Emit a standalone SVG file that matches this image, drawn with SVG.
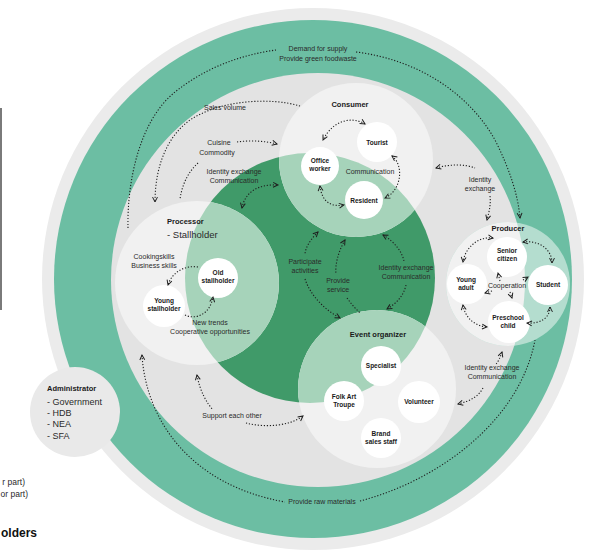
<svg xmlns="http://www.w3.org/2000/svg" width="605" height="559" viewBox="0 0 605 559">
<defs>
<style>
.t{font-family:"Liberation Sans",Arial,sans-serif;font-size:7px;fill:#2a2a2a;text-anchor:middle}
.b{font-family:"Liberation Sans",Arial,sans-serif;font-weight:bold;font-size:7.5px;fill:#1a1a1a;text-anchor:middle}
.n{font-family:"Liberation Sans",Arial,sans-serif;font-weight:bold;font-size:6.5px;fill:#1a1a1a;text-anchor:middle}
.node{fill:#ffffff}
.role{fill:#f1f1f1}
.lg{fill:#a6d3ba}
.d{fill:none;stroke:#1e1e1e;stroke-width:1.1;stroke-dasharray:1.2 1.8}
.ar{marker-end:url(#ah)}
.as{marker-start:url(#ah)}
</style>
<marker id="ah" viewBox="0 0 10 10" refX="8" refY="5" markerWidth="7" markerHeight="7" markerUnits="userSpaceOnUse" orient="auto-start-reverse">
<path d="M1,1.5 L8,5 L1,8.5" fill="none" stroke="#1e1e1e" stroke-width="1.4"/>
</marker>
<clipPath id="cg"><circle cx="310" cy="278" r="125"/></clipPath>
<clipPath id="cin"><circle cx="318" cy="280" r="207"/></clipPath>
</defs>
<rect width="605" height="559" fill="#ffffff"/>
<line x1="1" y1="108" x2="1" y2="310" stroke="#7a7a7a" stroke-width="2"/>

<g id="rings">
<circle cx="313" cy="279" r="271" fill="#ebebeb"/>
<circle cx="313" cy="279" r="259" fill="#6cbea3"/>
<circle cx="318" cy="280" r="207" fill="#e3e3e3"/>
<circle cx="310" cy="278" r="125" fill="#409a69"/>
</g>

<g id="administrator">
<circle cx="75" cy="412" r="45" fill="#e9e9e9"/>
<text class="b" x="47" y="391" style="text-anchor:start">Administrator</text>
<text class="t" x="47" y="405" style="text-anchor:start;font-size:9px">- Government</text>
<text class="t" x="47" y="416" style="text-anchor:start;font-size:9px">- HDB</text>
<text class="t" x="47" y="427" style="text-anchor:start;font-size:9px">- NEA</text>
<text class="t" x="47" y="439" style="text-anchor:start;font-size:9px">- SFA</text>
</g>

<g id="consumer">
<circle class="role" cx="356" cy="160" r="77"/>
<circle class="lg" cx="356" cy="160" r="77" clip-path="url(#cg)"/>
<text class="b" x="350" y="107">Consumer</text>
<g id="tourist"><circle class="node" cx="377" cy="142" r="20"/><text class="n" x="377" y="145">Tourist</text></g>
<g id="office-worker"><circle class="node" cx="320" cy="166" r="19"/><text class="n" x="320" y="163">Office</text><text class="n" x="320" y="171">worker</text></g>
<g id="resident"><circle class="node" cx="364" cy="200" r="19"/><text class="n" x="364" y="203">Resident</text></g>
<text class="t" x="370" y="174">Communication</text>
</g>

<g id="processor">
<circle class="role" cx="197" cy="283" r="82"/>
<circle class="lg" cx="197" cy="283" r="82" clip-path="url(#cg)"/>
<text class="b" x="167" y="224" style="text-anchor:start">Processor</text>
<text class="t" x="167" y="238" style="text-anchor:start;font-size:9.5px">- Stallholder</text>
<text class="t" x="154" y="259">Cookingskills</text>
<text class="t" x="154" y="268">Business skills</text>
<g id="old-stallholder"><circle class="node" cx="218" cy="278" r="20"/><text class="n" x="218" y="275">Old</text><text class="n" x="218" y="283">stallholder</text></g>
<g id="young-stallholder"><circle class="node" cx="164" cy="306" r="21"/><text class="n" x="164" y="303">Young</text><text class="n" x="164" y="311">stallholder</text></g>
<text class="t" x="210" y="325">New trends</text>
<text class="t" x="210" y="334">Cooperative opportunities</text>
</g>

<g id="event-organizer">
<circle class="role" cx="377" cy="389" r="79"/>
<circle class="lg" cx="377" cy="389" r="79" clip-path="url(#cg)"/>
<text class="b" x="378" y="337">Event organizer</text>
<g id="specialist"><circle class="node" cx="381" cy="366" r="20"/><text class="n" x="381" y="368">Specialist</text></g>
<g id="folk-art-troupe"><circle class="node" cx="344" cy="401" r="20"/><text class="n" x="344" y="399">Folk Art</text><text class="n" x="344" y="407">Troupe</text></g>
<g id="volunteer"><circle class="node" cx="419" cy="402" r="21"/><text class="n" x="419" y="404">Volunteer</text></g>
<g id="brand-sales-staff"><circle class="node" cx="381" cy="438" r="20"/><text class="n" x="381" y="436">Brand</text><text class="n" x="381" y="444">sales staff</text></g>
</g>

<g id="producer">
<circle cx="508" cy="284" r="62" fill="#b4ddcf"/>
<circle class="role" cx="508" cy="284" r="62" clip-path="url(#cin)"/>
<text class="b" x="508" y="231">Producer</text>
<g id="senior-citizen"><circle class="node" cx="507" cy="257" r="20"/><text class="n" x="507" y="253">Senior</text><text class="n" x="507" y="261">citizen</text></g>
<g id="young-adult"><circle class="node" cx="467" cy="284" r="20"/><text class="n" x="466" y="282">Young</text><text class="n" x="466" y="290">adult</text></g>
<g id="student"><circle class="node" cx="548" cy="285" r="20"/><text class="n" x="548" y="287">Student</text></g>
<g id="preschool-child"><circle class="node" cx="509" cy="322" r="21"/><text class="n" x="508" y="320">Preschool</text><text class="n" x="508" y="328">child</text></g>
<text class="t" x="507" y="288">Cooperation</text>
</g>

<g id="connectors">
<path class="d" d="M128,228 C127,180 140,120 175,92 C205,68 240,55 276,50"/>
<path class="d ar" d="M356,52 C420,60 470,95 495,140 C510,170 518,195 520,218"/>
<path class="d ar" d="M300,106 C270,97 220,100 190,120 C165,138 155,170 155,202"/>
<path class="d ar" d="M237,142 C250,140 265,141 277,144"/>
<path class="d" d="M198,163 C188,172 182,185 180,199"/>
<path class="d ar as" d="M242,208 C245,192 258,184 278,185"/>
<path class="d ar as" d="M365,124 C352,116 333,120 323,140"/>
<path class="d ar as" d="M392,156 C404,165 402,190 385,198"/>
<path class="d ar as" d="M320,186 C322,203 332,207 344,205"/>
<path class="d as" d="M436,168 C450,164 465,164 475,168"/>
<path class="d ar" d="M490,196 C491,205 489,212 487,220"/>
<path class="d ar as" d="M493,238 C478,236 465,248 463,262"/>
<path class="d ar as" d="M523,242 C540,240 552,250 552,263"/>
<path class="d ar as" d="M463,305 C465,318 475,326 487,327"/>
<path class="d ar as" d="M550,307 C550,318 540,324 527,323"/>
<path class="d ar" d="M500,281 L498,273"/>
<path class="d ar" d="M492,291 L485,293"/>
<path class="d ar" d="M523,280 L528,277"/>
<path class="d ar" d="M510,292 L512,298"/>
<path class="d ar" d="M198,267 C185,265 172,272 168,285"/>
<path class="d ar" d="M185,315 C195,320 210,315 213,297"/>
<path class="d as" d="M318,232 C310,240 305,248 305,255"/>
<path class="d ar" d="M305,279 C310,295 325,310 340,318"/>
<path class="d as" d="M345,240 C338,252 335,265 336,274"/>
<path class="d" d="M347,298 C352,305 356,309 360,313"/>
<path class="d as" d="M383,235 C395,242 402,252 404,261"/>
<path class="d ar" d="M406,285 C404,295 397,303 387,309"/>
<path class="d as" d="M502,352 C500,358 498,362 496,364"/>
<path class="d ar" d="M483,388 C478,397 470,401 458,404"/>
<path class="d as" d="M197,375 C200,392 207,403 213,410"/>
<path class="d ar" d="M246,423 C265,428 290,426 303,416"/>
<path class="d as" d="M142,355 C146,420 190,485 285,502"/>
<path class="d" d="M360,501 C440,480 520,420 535,340"/>
</g>

<g id="labels">
<text class="t" x="318" y="51">Demand for supply</text>
<text class="t" x="318" y="61">Provide green foodwaste</text>
<text class="t" x="225" y="110">Sales volume</text>
<text class="t" x="219" y="145">Cuisine</text>
<text class="t" x="217" y="155">Commodity</text>
<text class="t" x="234" y="174">Identity exchange</text>
<text class="t" x="234" y="183">Communication</text>
<text class="t" x="480" y="182">Identity</text>
<text class="t" x="480" y="191">exchange</text>
<text class="t" x="305" y="264">Participate</text>
<text class="t" x="305" y="273">activities</text>
<text class="t" x="338" y="283">Provide</text>
<text class="t" x="338" y="292">service</text>
<text class="t" x="406" y="270">Identity exchange</text>
<text class="t" x="406" y="279">Communication</text>
<text class="t" x="492" y="370">Identity exchange</text>
<text class="t" x="492" y="379">Communication</text>
<text class="t" x="232" y="418">Support each other</text>
<text class="t" x="322" y="504">Provide raw materials</text>
<text class="t" x="25" y="485" style="text-anchor:end;font-size:8.5px">r part)</text>
<text class="t" x="28" y="497" style="text-anchor:end;font-size:8.5px">or part)</text>
<text class="t" x="37" y="537" style="text-anchor:end;font-size:12px;font-weight:bold;fill:#111">olders</text>
</g>
</svg>
